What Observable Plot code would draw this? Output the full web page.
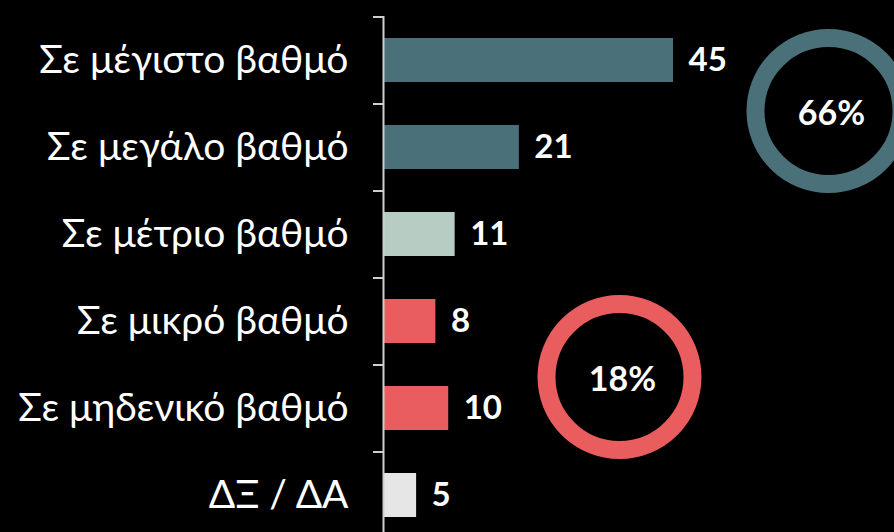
<!DOCTYPE html>
<html>
<head>
<meta charset="utf-8">
<script src="https://cdn.jsdelivr.net/npm/d3@7"></script>
<script src="https://cdn.jsdelivr.net/npm/@observablehq/plot@0.6"></script>
<style>
  html, body { margin: 0; padding: 0; background: #000; }
</style>
</head>
<body>
<div id="chart"></div>
<script>
const categories = ["Σε μέγιστο βαθμό", "Σε μεγάλο βαθμό", "Σε μέτριο βαθμό", "Σε μικρό βαθμό", "Σε μηδενικό βαθμό", "ΔΞ / ΔΑ"];
const values = [45, 21, 11, 8, 10, 5];
const colors = ["#4a7079", "#4a7079", "#b7cdc4", "#e95d5f", "#e95d5f", "#e6e6e6"];
const groupPositive = [0, 1];
const groupNegative = [3, 4];

const data = categories.map((c, i) => ({ category: c, value: values[i], color: colors[i] }));
const sum = idx => idx.reduce((s, i) => s + values[i], 0);
const rings = [
  { category: categories[1], label: sum(groupPositive) + "%", color: colors[0], dx: 189, dy: -36.5, tdx: 3 },
  { category: categories[4], label: sum(groupNegative) + "%", color: colors[3], dx: -20, dy: -31.5, tdx: 3 }
];

const step = 87;
const ringMarks = rings.flatMap(r => [
  Plot.dot([r], { y: "category", r: 73, stroke: "color", strokeWidth: 18, fill: "none", dx: r.dx, dy: r.dy }),
  Plot.text([r], { y: "category", text: "label", fill: "#fff", fontSize: 34, fontWeight: "bold", dx: r.dx + r.tdx, dy: r.dy + 3 })
]);

const chart = Plot.plot({
  width: 894,
  height: 532,
  marginLeft: 384,
  marginRight: 0,
  marginTop: 16,
  marginBottom: 0,
  style: { background: "#000", color: "#fff", fontFamily: "Lato, 'Open Sans', sans-serif", overflow: "hidden" },
  x: { domain: [0, 45], range: [384, 673], axis: null },
  y: { domain: categories, range: [16, 538], paddingInner: 0.5, paddingOuter: 0.25, label: null, axis: null },
  marks: [
    Plot.barX(data, { y: "category", x: "value", fill: "color" }),
    Plot.text(data, { y: "category", x: "value", text: d => String(d.value), dx: 15, textAnchor: "start", fill: "#fff", fontSize: 33, fontWeight: "bold" }),
    Plot.axisY({ tickSize: 11, tickFormat: () => "", dy: -step / 2, stroke: "#cfcfcf", strokeWidth: 2 }),
    Plot.axisY({ tickSize: 0, tickPadding: 36, fill: "#fff", fontSize: 39, label: null }),
    Plot.ruleX([0], { stroke: "#cfcfcf", strokeWidth: 2, dx: -1 }),
    ...ringMarks
  ]
});
document.getElementById("chart").append(chart);
</script>
</body>
</html>
